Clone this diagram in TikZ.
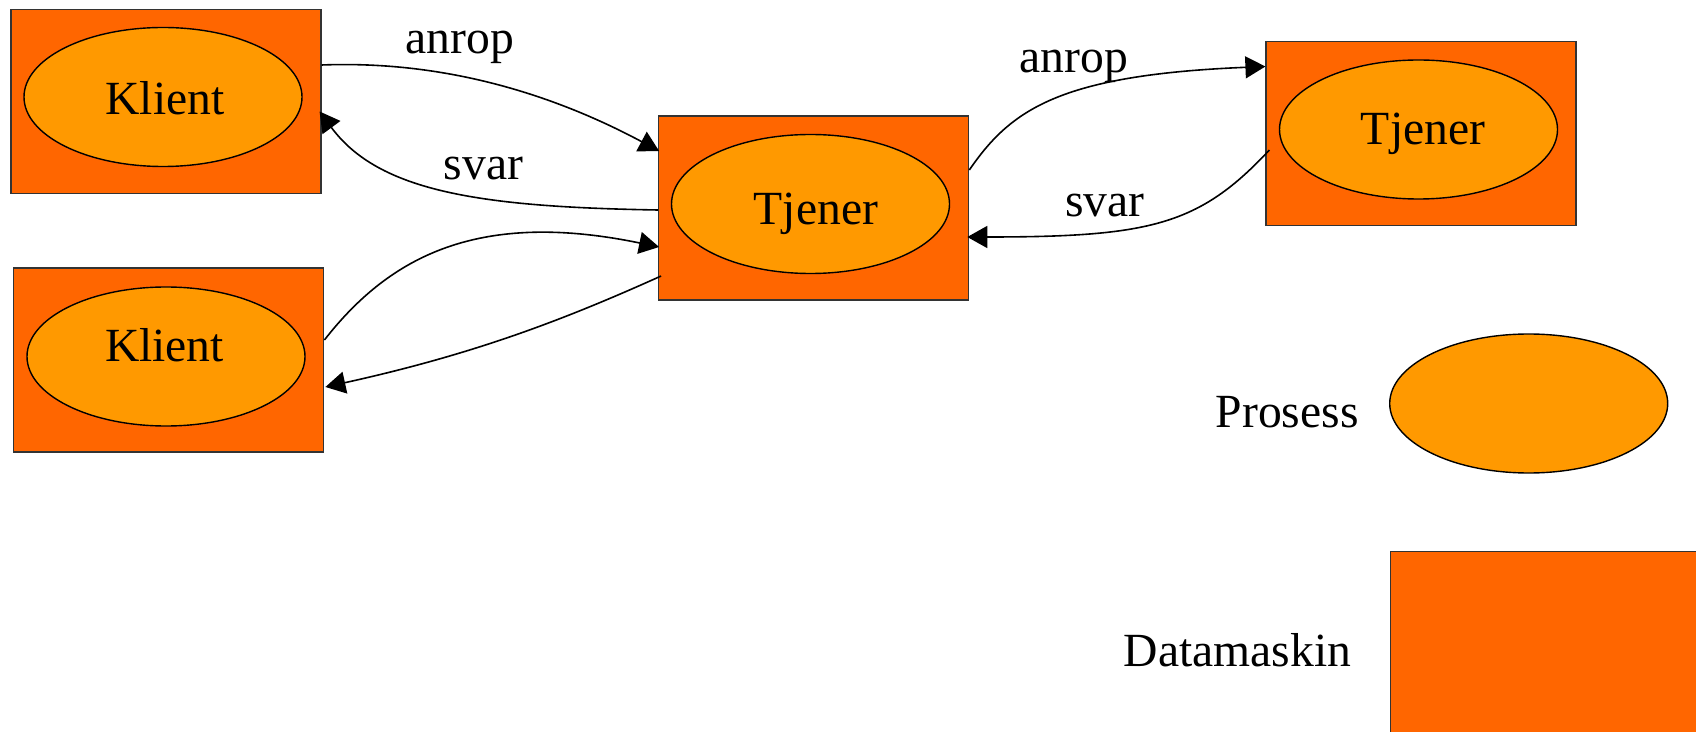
\documentclass[tikz,border=0pt]{standalone}
\usepackage{fontspec}
\setmainfont{Liberation Serif}
\usetikzlibrary{shapes.geometric,arrows.meta,calc}
\definecolor{boxorange}{HTML}{FF6600}
\definecolor{procorange}{HTML}{FF9900}
\tikzset{
  machine/.style={draw=black!80, line width=0.6pt, fill=boxorange, rectangle, minimum width=155pt, minimum height=92pt, inner sep=0pt},
  proc/.style={draw=black, line width=0.7pt, fill=procorange, ellipse, minimum width=139pt, minimum height=69.5pt, inner sep=0pt},
  lbl/.style={anchor=base, inner sep=0pt},
  conn/.style={line width=0.8pt, -{Triangle[length=10pt,width=11pt]}},
}
\begin{document}
\begin{tikzpicture}[x=0.5pt, y=-0.5pt, font=\fontsize{23.8}{28}\selectfont]
\clip (0,0) rectangle (1696,732);
\fill[white] (0,0) rectangle (1696,732);
% machines
\node[machine] (k1box) at (166,101.5) {};
\node[machine] (k2box) at (168.8,360) {};
\node[machine] (tmbox) at (813.7,208) {};
\node[machine] (trbox) at (1421,133.5) {};
\node[machine, anchor=north west] (legbox) at (1389.7,550.7) {};
% processes
\node[proc] (k1) at (163,97) {};
\node[proc] (k2) at (166,356.5) {};
\node[proc] (tm) at (810.5,204) {};
\node[proc] (tr) at (1418.5,129.5) {};
\node[proc] (legproc) at (1528.7,403.5) {};
% process names
\node[lbl] (k1txt) at (165,115) {Klient};
\node[lbl] (k2txt) at (164.5,361.7) {Klient};
\node[lbl] (tmtxt) at (816,225) {Tjener};
\node[lbl] (trtxt) at (1423,145) {Tjener};
% legend text
\node[lbl, anchor=base east] (legproctxt) at (1359,428) {Prosess};
\node[lbl, anchor=base east] (legboxtxt) at (1351.7,666.7) {Datamaskin};
% connectors
\draw[conn] ($(k1box.east)+(0,-36.5)$) .. controls +(129,-5) and +(-99,-53) .. ($(tmbox.west)+(1,-57)$);
\draw[conn] ($(tmbox.west)+(0,2)$) .. controls +(-178.7,-3) and +(59,80) .. ($(k1box.east)+(-2,10)$);
\draw[conn] ($(k2box.east)+(0,-20)$) .. controls +(66.3,-85) and +(-179,-37) .. ($(tmbox.west)+(1,39)$);
\draw[conn] ($(tmbox.west)+(3,68)$) .. controls +(-102,46) and +(145,-32) .. ($(k2box.east)+(1,27)$);
\draw[conn] ($(tmbox.east)+(0,-38)$) .. controls +(41.3,-60) and +(-206.7,8.5) .. ($(trbox.west)+(0,-67)$);
\draw[conn] ($(trbox.west)+(4,16.5)$) .. controls +(-70,75) and +(183.3,0) .. ($(tmbox.east)+(-2,29)$);
% labels
\node[lbl] (l1) at (460,54) {anrop};
\node[lbl] (l2) at (483.5,180) {svar};
\node[lbl] (l3) at (1074,73) {anrop};
\node[lbl] (l4) at (1104.7,216.7) {svar};
\end{tikzpicture}
\end{document}
